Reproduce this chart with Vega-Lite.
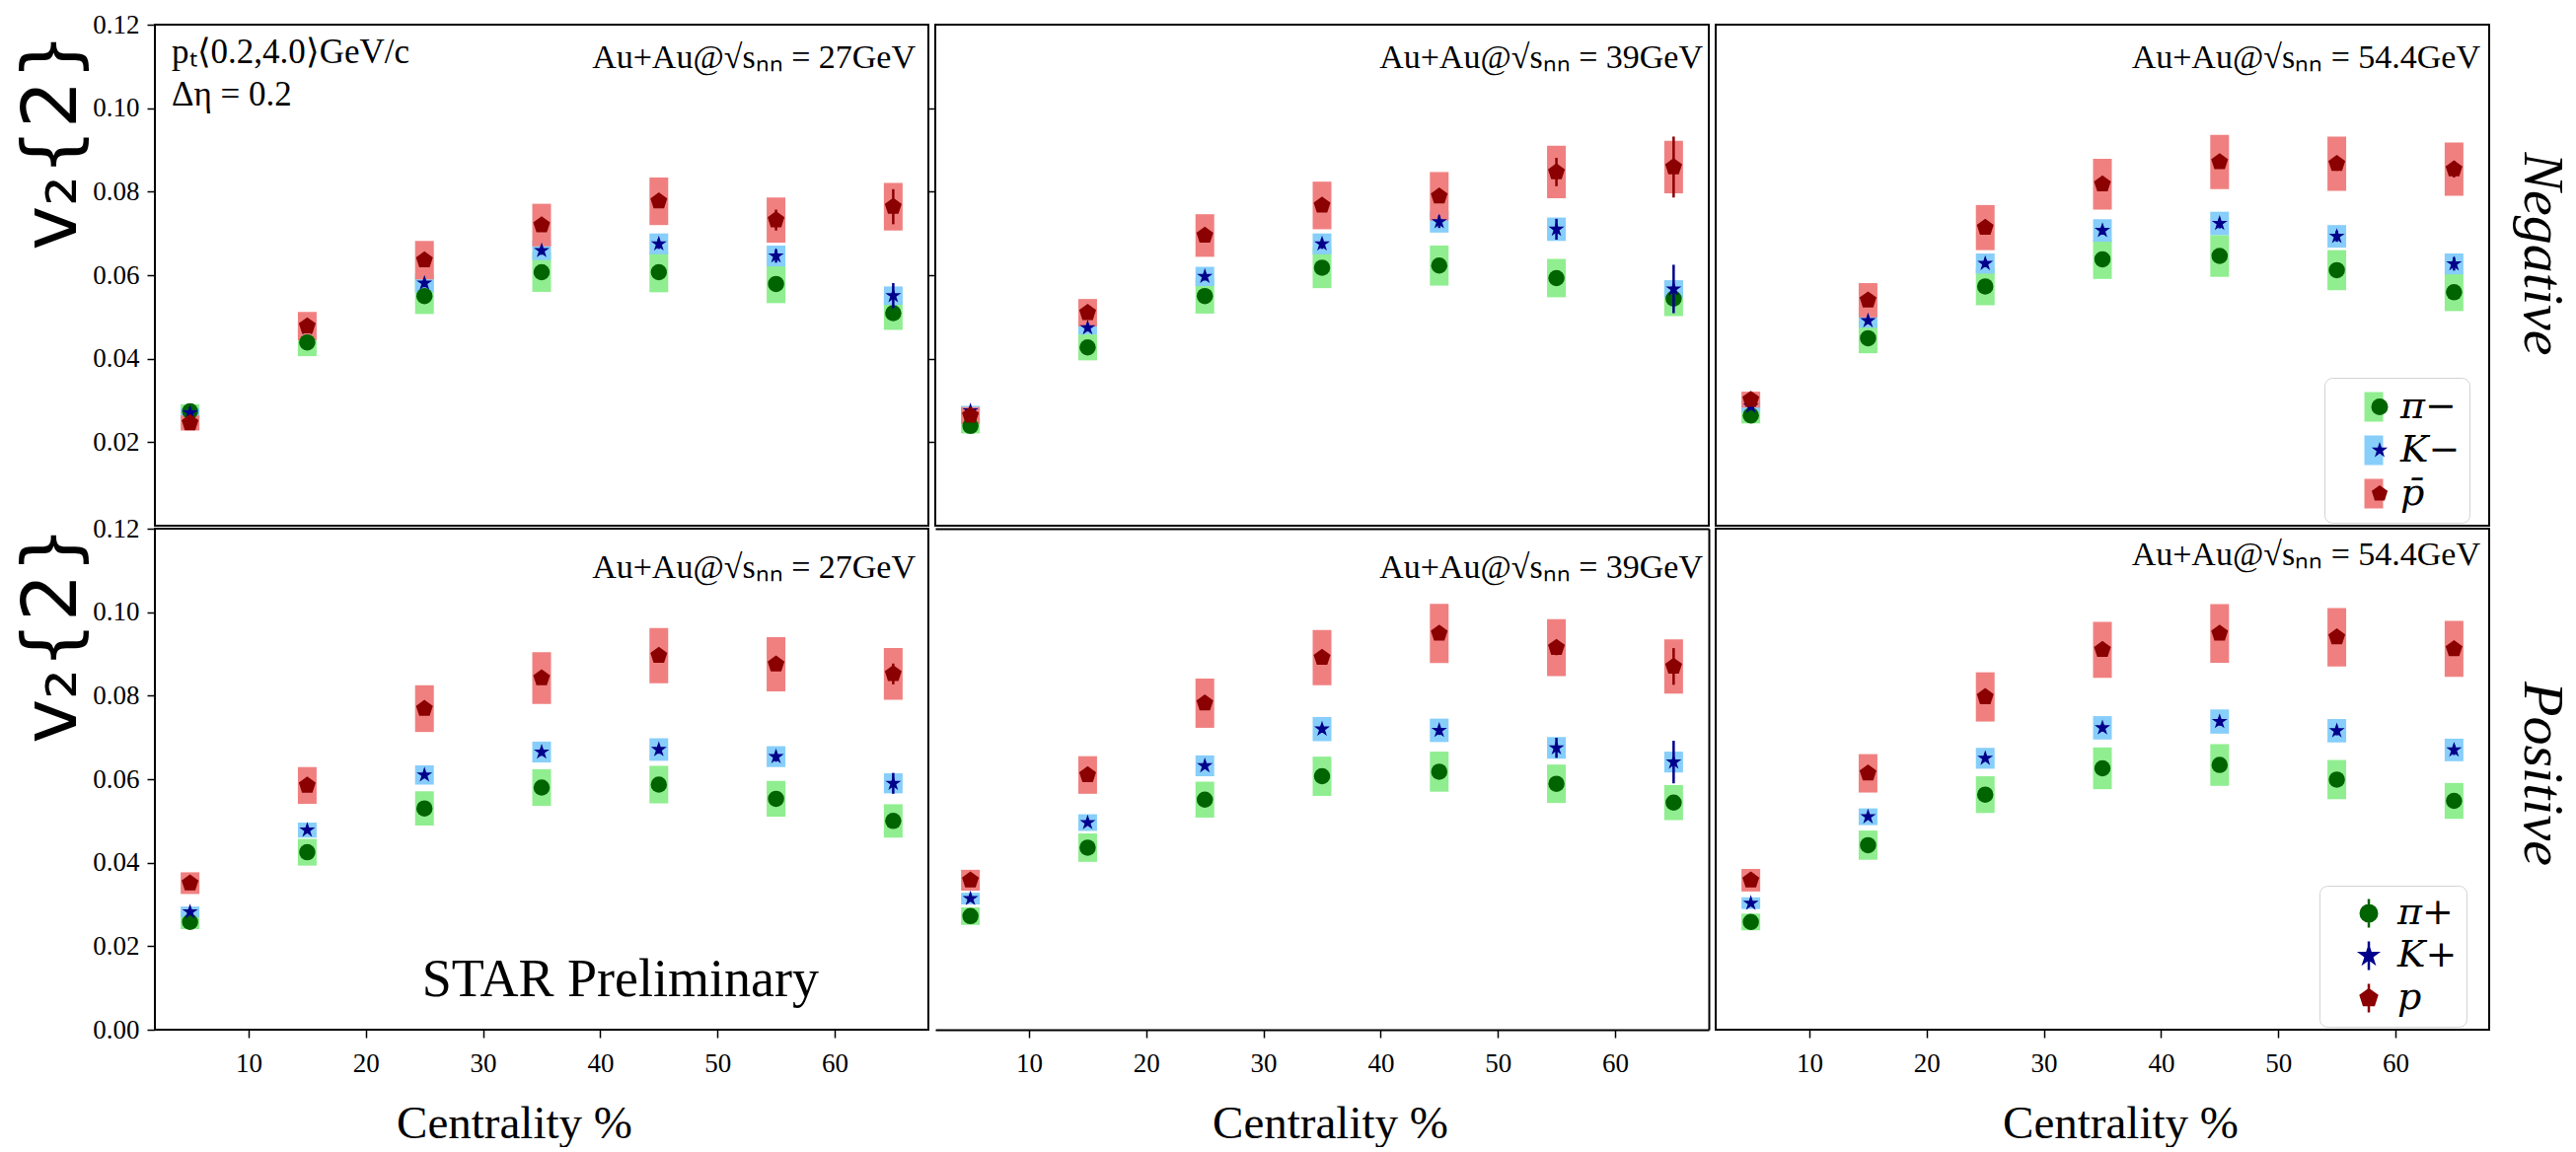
{
  "$schema": "https://vega.github.io/schema/vega-lite/v6.json",
  "background": "white",
  "padding": {"left": 14, "top": 10, "right": 2, "bottom": 0},
  "datasets": {
    "v2": [
      {"charge":"neg","energy":27,"species":"pi","cent":5,"v2":0.0274,"stat":0.0004,"sys":0.0017},
      {"charge":"neg","energy":27,"species":"pi","cent":15,"v2":0.0439,"stat":0.0005,"sys":0.0033},
      {"charge":"neg","energy":27,"species":"pi","cent":25,"v2":0.0550,"stat":0.0006,"sys":0.0043},
      {"charge":"neg","energy":27,"species":"pi","cent":35,"v2":0.0607,"stat":0.0006,"sys":0.0047},
      {"charge":"neg","energy":27,"species":"pi","cent":45,"v2":0.0607,"stat":0.0007,"sys":0.0048},
      {"charge":"neg","energy":27,"species":"pi","cent":55,"v2":0.0579,"stat":0.0008,"sys":0.0046},
      {"charge":"neg","energy":27,"species":"pi","cent":65,"v2":0.0509,"stat":0.0010,"sys":0.0040},
      {"charge":"neg","energy":27,"species":"K","cent":5,"v2":0.0270,"stat":0.0006,"sys":0.0012},
      {"charge":"neg","energy":27,"species":"K","cent":15,"v2":0.0474,"stat":0.0008,"sys":0.0018},
      {"charge":"neg","energy":27,"species":"K","cent":25,"v2":0.0581,"stat":0.0010,"sys":0.0022},
      {"charge":"neg","energy":27,"species":"K","cent":35,"v2":0.0659,"stat":0.0010,"sys":0.0023},
      {"charge":"neg","energy":27,"species":"K","cent":45,"v2":0.0675,"stat":0.0012,"sys":0.0025},
      {"charge":"neg","energy":27,"species":"K","cent":55,"v2":0.0646,"stat":0.0016,"sys":0.0025},
      {"charge":"neg","energy":27,"species":"K","cent":65,"v2":0.0551,"stat":0.0030,"sys":0.0022},
      {"charge":"neg","energy":27,"species":"p","cent":5,"v2":0.0246,"stat":0.0007,"sys":0.0018},
      {"charge":"neg","energy":27,"species":"p","cent":15,"v2":0.0478,"stat":0.0008,"sys":0.0034},
      {"charge":"neg","energy":27,"species":"p","cent":25,"v2":0.0636,"stat":0.0010,"sys":0.0046},
      {"charge":"neg","energy":27,"species":"p","cent":35,"v2":0.0720,"stat":0.0012,"sys":0.0051},
      {"charge":"neg","energy":27,"species":"p","cent":45,"v2":0.0777,"stat":0.0014,"sys":0.0057},
      {"charge":"neg","energy":27,"species":"p","cent":55,"v2":0.0732,"stat":0.0025,"sys":0.0054},
      {"charge":"neg","energy":27,"species":"p","cent":65,"v2":0.0764,"stat":0.0042,"sys":0.0057},

      {"charge":"neg","energy":39,"species":"pi","cent":5,"v2":0.0239,"stat":0.0004,"sys":0.0018},
      {"charge":"neg","energy":39,"species":"pi","cent":15,"v2":0.0427,"stat":0.0005,"sys":0.0031},
      {"charge":"neg","energy":39,"species":"pi","cent":25,"v2":0.0550,"stat":0.0006,"sys":0.0042},
      {"charge":"neg","energy":39,"species":"pi","cent":35,"v2":0.0618,"stat":0.0007,"sys":0.0049},
      {"charge":"neg","energy":39,"species":"pi","cent":45,"v2":0.0623,"stat":0.0008,"sys":0.0048},
      {"charge":"neg","energy":39,"species":"pi","cent":55,"v2":0.0593,"stat":0.0009,"sys":0.0046},
      {"charge":"neg","energy":39,"species":"pi","cent":65,"v2":0.0544,"stat":0.0012,"sys":0.0042},
      {"charge":"neg","energy":39,"species":"K","cent":5,"v2":0.0275,"stat":0.0007,"sys":0.0012},
      {"charge":"neg","energy":39,"species":"K","cent":15,"v2":0.0474,"stat":0.0009,"sys":0.0016},
      {"charge":"neg","energy":39,"species":"K","cent":25,"v2":0.0597,"stat":0.0010,"sys":0.0023},
      {"charge":"neg","energy":39,"species":"K","cent":35,"v2":0.0675,"stat":0.0012,"sys":0.0025},
      {"charge":"neg","energy":39,"species":"K","cent":45,"v2":0.0728,"stat":0.0015,"sys":0.0026},
      {"charge":"neg","energy":39,"species":"K","cent":55,"v2":0.0710,"stat":0.0025,"sys":0.0028},
      {"charge":"neg","energy":39,"species":"K","cent":65,"v2":0.0567,"stat":0.0058,"sys":0.0021},
      {"charge":"neg","energy":39,"species":"p","cent":5,"v2":0.0264,"stat":0.0008,"sys":0.0020},
      {"charge":"neg","energy":39,"species":"p","cent":15,"v2":0.0510,"stat":0.0010,"sys":0.0033},
      {"charge":"neg","energy":39,"species":"p","cent":25,"v2":0.0695,"stat":0.0012,"sys":0.0051},
      {"charge":"neg","energy":39,"species":"p","cent":35,"v2":0.0767,"stat":0.0014,"sys":0.0057},
      {"charge":"neg","energy":39,"species":"p","cent":45,"v2":0.0789,"stat":0.0016,"sys":0.0058},
      {"charge":"neg","energy":39,"species":"p","cent":55,"v2":0.0847,"stat":0.0034,"sys":0.0063},
      {"charge":"neg","energy":39,"species":"p","cent":65,"v2":0.0859,"stat":0.0073,"sys":0.0063},

      {"charge":"neg","energy":54.4,"species":"pi","cent":5,"v2":0.0264,"stat":0.0004,"sys":0.0019},
      {"charge":"neg","energy":54.4,"species":"pi","cent":15,"v2":0.0449,"stat":0.0005,"sys":0.0036},
      {"charge":"neg","energy":54.4,"species":"pi","cent":25,"v2":0.0573,"stat":0.0006,"sys":0.0045},
      {"charge":"neg","energy":54.4,"species":"pi","cent":35,"v2":0.0638,"stat":0.0007,"sys":0.0047},
      {"charge":"neg","energy":54.4,"species":"pi","cent":45,"v2":0.0646,"stat":0.0008,"sys":0.0050},
      {"charge":"neg","energy":54.4,"species":"pi","cent":55,"v2":0.0612,"stat":0.0009,"sys":0.0048},
      {"charge":"neg","energy":54.4,"species":"pi","cent":65,"v2":0.0559,"stat":0.0010,"sys":0.0045},
      {"charge":"neg","energy":54.4,"species":"K","cent":5,"v2":0.0286,"stat":0.0006,"sys":0.0013},
      {"charge":"neg","energy":54.4,"species":"K","cent":15,"v2":0.0491,"stat":0.0008,"sys":0.0017},
      {"charge":"neg","energy":54.4,"species":"K","cent":25,"v2":0.0628,"stat":0.0009,"sys":0.0024},
      {"charge":"neg","energy":54.4,"species":"K","cent":35,"v2":0.0707,"stat":0.0010,"sys":0.0027},
      {"charge":"neg","energy":54.4,"species":"K","cent":45,"v2":0.0724,"stat":0.0012,"sys":0.0028},
      {"charge":"neg","energy":54.4,"species":"K","cent":55,"v2":0.0693,"stat":0.0013,"sys":0.0027},
      {"charge":"neg","energy":54.4,"species":"K","cent":65,"v2":0.0627,"stat":0.0016,"sys":0.0025},
      {"charge":"neg","energy":54.4,"species":"p","cent":5,"v2":0.0302,"stat":0.0007,"sys":0.0019},
      {"charge":"neg","energy":54.4,"species":"p","cent":15,"v2":0.0540,"stat":0.0009,"sys":0.0041},
      {"charge":"neg","energy":54.4,"species":"p","cent":25,"v2":0.0714,"stat":0.0011,"sys":0.0054},
      {"charge":"neg","energy":54.4,"species":"p","cent":35,"v2":0.0818,"stat":0.0013,"sys":0.0061},
      {"charge":"neg","energy":54.4,"species":"p","cent":45,"v2":0.0871,"stat":0.0015,"sys":0.0065},
      {"charge":"neg","energy":54.4,"species":"p","cent":55,"v2":0.0867,"stat":0.0017,"sys":0.0065},
      {"charge":"neg","energy":54.4,"species":"p","cent":65,"v2":0.0854,"stat":0.0020,"sys":0.0064},

      {"charge":"pos","energy":27,"species":"pi","cent":5,"v2":0.0258,"stat":0.0004,"sys":0.0017},
      {"charge":"pos","energy":27,"species":"pi","cent":15,"v2":0.0425,"stat":0.0005,"sys":0.0032},
      {"charge":"pos","energy":27,"species":"pi","cent":25,"v2":0.0530,"stat":0.0006,"sys":0.0041},
      {"charge":"pos","energy":27,"species":"pi","cent":35,"v2":0.0580,"stat":0.0006,"sys":0.0044},
      {"charge":"pos","energy":27,"species":"pi","cent":45,"v2":0.0587,"stat":0.0007,"sys":0.0045},
      {"charge":"pos","energy":27,"species":"pi","cent":55,"v2":0.0553,"stat":0.0008,"sys":0.0043},
      {"charge":"pos","energy":27,"species":"pi","cent":65,"v2":0.0500,"stat":0.0009,"sys":0.0040},
      {"charge":"pos","energy":27,"species":"K","cent":5,"v2":0.0282,"stat":0.0006,"sys":0.0013},
      {"charge":"pos","energy":27,"species":"K","cent":15,"v2":0.0478,"stat":0.0007,"sys":0.0018},
      {"charge":"pos","energy":27,"species":"K","cent":25,"v2":0.0610,"stat":0.0008,"sys":0.0023},
      {"charge":"pos","energy":27,"species":"K","cent":35,"v2":0.0665,"stat":0.0009,"sys":0.0025},
      {"charge":"pos","energy":27,"species":"K","cent":45,"v2":0.0671,"stat":0.0010,"sys":0.0027},
      {"charge":"pos","energy":27,"species":"K","cent":55,"v2":0.0654,"stat":0.0012,"sys":0.0025},
      {"charge":"pos","energy":27,"species":"K","cent":65,"v2":0.0590,"stat":0.0025,"sys":0.0024},
      {"charge":"pos","energy":27,"species":"p","cent":5,"v2":0.0351,"stat":0.0007,"sys":0.0026},
      {"charge":"pos","energy":27,"species":"p","cent":15,"v2":0.0585,"stat":0.0008,"sys":0.0044},
      {"charge":"pos","energy":27,"species":"p","cent":25,"v2":0.0769,"stat":0.0010,"sys":0.0056},
      {"charge":"pos","energy":27,"species":"p","cent":35,"v2":0.0842,"stat":0.0011,"sys":0.0062},
      {"charge":"pos","energy":27,"species":"p","cent":45,"v2":0.0896,"stat":0.0012,"sys":0.0066},
      {"charge":"pos","energy":27,"species":"p","cent":55,"v2":0.0875,"stat":0.0014,"sys":0.0065},
      {"charge":"pos","energy":27,"species":"p","cent":65,"v2":0.0852,"stat":0.0025,"sys":0.0062},

      {"charge":"pos","energy":39,"species":"pi","cent":5,"v2":0.0272,"stat":0.0004,"sys":0.0021},
      {"charge":"pos","energy":39,"species":"pi","cent":15,"v2":0.0436,"stat":0.0005,"sys":0.0034},
      {"charge":"pos","energy":39,"species":"pi","cent":25,"v2":0.0551,"stat":0.0006,"sys":0.0043},
      {"charge":"pos","energy":39,"species":"pi","cent":35,"v2":0.0607,"stat":0.0007,"sys":0.0047},
      {"charge":"pos","energy":39,"species":"pi","cent":45,"v2":0.0618,"stat":0.0008,"sys":0.0048},
      {"charge":"pos","energy":39,"species":"pi","cent":55,"v2":0.0589,"stat":0.0009,"sys":0.0046},
      {"charge":"pos","energy":39,"species":"pi","cent":65,"v2":0.0544,"stat":0.0010,"sys":0.0042},
      {"charge":"pos","energy":39,"species":"K","cent":5,"v2":0.0314,"stat":0.0006,"sys":0.0014},
      {"charge":"pos","energy":39,"species":"K","cent":15,"v2":0.0496,"stat":0.0007,"sys":0.0020},
      {"charge":"pos","energy":39,"species":"K","cent":25,"v2":0.0632,"stat":0.0008,"sys":0.0025},
      {"charge":"pos","energy":39,"species":"K","cent":35,"v2":0.0720,"stat":0.0009,"sys":0.0029},
      {"charge":"pos","energy":39,"species":"K","cent":45,"v2":0.0717,"stat":0.0011,"sys":0.0028},
      {"charge":"pos","energy":39,"species":"K","cent":55,"v2":0.0675,"stat":0.0024,"sys":0.0026},
      {"charge":"pos","energy":39,"species":"K","cent":65,"v2":0.0641,"stat":0.0051,"sys":0.0025},
      {"charge":"pos","energy":39,"species":"p","cent":5,"v2":0.0358,"stat":0.0007,"sys":0.0025},
      {"charge":"pos","energy":39,"species":"p","cent":15,"v2":0.0610,"stat":0.0008,"sys":0.0045},
      {"charge":"pos","energy":39,"species":"p","cent":25,"v2":0.0782,"stat":0.0010,"sys":0.0059},
      {"charge":"pos","energy":39,"species":"p","cent":35,"v2":0.0891,"stat":0.0012,"sys":0.0066},
      {"charge":"pos","energy":39,"species":"p","cent":45,"v2":0.0949,"stat":0.0014,"sys":0.0071},
      {"charge":"pos","energy":39,"species":"p","cent":55,"v2":0.0915,"stat":0.0018,"sys":0.0068},
      {"charge":"pos","energy":39,"species":"p","cent":65,"v2":0.0870,"stat":0.0044,"sys":0.0065},

      {"charge":"pos","energy":54.4,"species":"pi","cent":5,"v2":0.0258,"stat":0.0004,"sys":0.0020},
      {"charge":"pos","energy":54.4,"species":"pi","cent":15,"v2":0.0442,"stat":0.0005,"sys":0.0035},
      {"charge":"pos","energy":54.4,"species":"pi","cent":25,"v2":0.0563,"stat":0.0006,"sys":0.0044},
      {"charge":"pos","energy":54.4,"species":"pi","cent":35,"v2":0.0626,"stat":0.0007,"sys":0.0050},
      {"charge":"pos","energy":54.4,"species":"pi","cent":45,"v2":0.0634,"stat":0.0008,"sys":0.0050},
      {"charge":"pos","energy":54.4,"species":"pi","cent":55,"v2":0.0599,"stat":0.0008,"sys":0.0047},
      {"charge":"pos","energy":54.4,"species":"pi","cent":65,"v2":0.0548,"stat":0.0009,"sys":0.0043},
      {"charge":"pos","energy":54.4,"species":"K","cent":5,"v2":0.0303,"stat":0.0006,"sys":0.0014},
      {"charge":"pos","energy":54.4,"species":"K","cent":15,"v2":0.0510,"stat":0.0007,"sys":0.0020},
      {"charge":"pos","energy":54.4,"species":"K","cent":25,"v2":0.0650,"stat":0.0008,"sys":0.0025},
      {"charge":"pos","energy":54.4,"species":"K","cent":35,"v2":0.0723,"stat":0.0009,"sys":0.0028},
      {"charge":"pos","energy":54.4,"species":"K","cent":45,"v2":0.0738,"stat":0.0010,"sys":0.0029},
      {"charge":"pos","energy":54.4,"species":"K","cent":55,"v2":0.0716,"stat":0.0011,"sys":0.0028},
      {"charge":"pos","energy":54.4,"species":"K","cent":65,"v2":0.0670,"stat":0.0012,"sys":0.0027},
      {"charge":"pos","energy":54.4,"species":"p","cent":5,"v2":0.0358,"stat":0.0007,"sys":0.0027},
      {"charge":"pos","energy":54.4,"species":"p","cent":15,"v2":0.0614,"stat":0.0008,"sys":0.0046},
      {"charge":"pos","energy":54.4,"species":"p","cent":25,"v2":0.0797,"stat":0.0010,"sys":0.0059},
      {"charge":"pos","energy":54.4,"species":"p","cent":35,"v2":0.0910,"stat":0.0011,"sys":0.0067},
      {"charge":"pos","energy":54.4,"species":"p","cent":45,"v2":0.0949,"stat":0.0012,"sys":0.0070},
      {"charge":"pos","energy":54.4,"species":"p","cent":55,"v2":0.0940,"stat":0.0013,"sys":0.0070},
      {"charge":"pos","energy":54.4,"species":"p","cent":65,"v2":0.0912,"stat":0.0014,"sys":0.0067}
    ],
    "notes": [
      {"charge":"neg","energy":27,"kind":"energy","label":"Au+Au@√sₙₙ = 27GeV"},
      {"charge":"neg","energy":39,"kind":"energy","label":"Au+Au@√sₙₙ = 39GeV"},
      {"charge":"neg","energy":54.4,"kind":"energy","label":"Au+Au@√sₙₙ = 54.4GeV"},
      {"charge":"pos","energy":27,"kind":"energy","label":"Au+Au@√sₙₙ = 27GeV"},
      {"charge":"pos","energy":39,"kind":"energy","label":"Au+Au@√sₙₙ = 39GeV"},
      {"charge":"pos","energy":54.4,"kind":"energy","label":"Au+Au@√sₙₙ = 54.4GeV"},
      {"charge":"neg","energy":27,"kind":"cuts","label":"pₜ⟨0.2,4.0⟩GeV/c\nΔη = 0.2"},
      {"charge":"pos","energy":27,"kind":"star","label":"STAR Preliminary"}
    ]
  },
  "columns": 3,
  "spacing": {"row": 3, "column": 7},
  "bounds": "flush",
  "resolve": {
    "scale": {"x": "independent", "y": "independent", "color": "independent", "fill": "independent", "shape": "independent", "stroke": "independent"},
    "legend": {"color": "independent", "fill": "independent", "shape": "independent", "stroke": "independent"}
  },
  "concat": [
    {
      "width": 784, "height": 508,
      "resolve": {"axis": {"x": "independent", "y": "independent"}},
      "layer": [
        {
          "data": {"name": "v2"},
          "transform": [{"filter": "datum.charge == 'neg' && datum.energy == 27"}],
          "encoding": {
            "x": {"field": "cent", "type": "quantitative", "scale": {"domain": [2, 68], "nice": false, "zero": false}, "axis": null},
            "y": {"field": "v2", "type": "quantitative", "scale": {"domain": [0, 0.12], "nice": false, "zero": false},
                  "axis": {"values": [0.02, 0.04, 0.06, 0.08, 0.1, 0.12], "format": ".2f", "title": "v₂{2}", "titleFont": "DejaVu Sans", "titleFontSize": 76, "titleAngle": -90, "titleX": -104, "titleY": 118, "titleAlign": "center", "titleBaseline": "middle"}}
          },
          "layer": [
            {"transform": [{"filter": "datum.species == 'pi'"}], "mark": {"type": "errorbar", "thickness": 19, "color": "#90ee90", "opacity": 1}, "encoding": {"yError": {"field": "sys"}}},
            {"transform": [{"filter": "datum.species == 'K'"}], "mark": {"type": "errorbar", "thickness": 19, "color": "#87cefa", "opacity": 1}, "encoding": {"yError": {"field": "sys"}}},
            {"transform": [{"filter": "datum.species == 'p'"}], "mark": {"type": "errorbar", "thickness": 19, "color": "#f08080", "opacity": 1}, "encoding": {"yError": {"field": "sys"}}},
            {"transform": [{"filter": "datum.species == 'pi'"}], "mark": {"type": "errorbar", "thickness": 2.5, "color": "#006400", "opacity": 1}, "encoding": {"yError": {"field": "stat"}}},
            {"transform": [{"filter": "datum.species == 'pi'"}], "mark": {"type": "point", "shape": "circle", "filled": true, "size": 272, "color": "#006400", "opacity": 1}},
            {"transform": [{"filter": "datum.species == 'K'"}], "mark": {"type": "errorbar", "thickness": 2.5, "color": "#00008b", "opacity": 1}, "encoding": {"yError": {"field": "stat"}}},
            {"transform": [{"filter": "datum.species == 'K'"}], "mark": {"type": "point", "shape": "M0,-1L-0.2245,-0.309L-0.951,-0.309L-0.3633,0.118L-0.588,0.809L0,0.382L0.588,0.809L0.3633,0.118L0.951,-0.309L0.2245,-0.309Z", "filled": true, "size": 282, "color": "#00008b", "opacity": 1}},
            {"transform": [{"filter": "datum.species == 'p'"}], "mark": {"type": "errorbar", "thickness": 2.5, "color": "#8b0000", "opacity": 1}, "encoding": {"yError": {"field": "stat"}}},
            {"transform": [{"filter": "datum.species == 'p'"}], "mark": {"type": "point", "shape": "M0,-1L0.951,-0.309L0.588,0.809L-0.588,0.809L-0.951,-0.309Z", "filled": true, "size": 324, "color": "#8b0000", "opacity": 1}}
          ]
        },
        {"data": {"name": "notes"}, "transform": [{"filter": "datum.kind == 'energy' && datum.charge == 'neg' && datum.energy == 27"}],
         "mark": {"type": "text", "align": "right", "baseline": "alphabetic", "dx": -13, "dy": 44, "font": "Liberation Serif", "fontSize": 34, "color": "#000"},
         "encoding": {"x": {"datum": 68, "axis": null}, "y": {"datum": 0.12, "axis": null}, "text": {"field": "label"}}},
        {"data": {"name": "notes"}, "transform": [{"filter": "datum.kind == 'cuts' && datum.charge == 'neg' && datum.energy == 27"}],
         "mark": {"type": "text", "align": "left", "baseline": "alphabetic", "dx": 17, "dy": 39, "lineBreak": "\n", "lineHeight": 43, "font": "Liberation Serif", "fontSize": 35, "color": "#000"},
         "encoding": {"x": {"datum": 2, "axis": null}, "y": {"datum": 0.12, "axis": null}, "text": {"field": "label"}}}
      ]
    },
    {
      "width": 784, "height": 508,
      "resolve": {"axis": {"x": "independent", "y": "independent"}},
      "layer": [
        {
          "data": {"name": "v2"},
          "transform": [{"filter": "datum.charge == 'neg' && datum.energy == 39"}],
          "encoding": {
            "x": {"field": "cent", "type": "quantitative", "scale": {"domain": [2, 68], "nice": false, "zero": false}, "axis": null},
            "y": {"field": "v2", "type": "quantitative", "scale": {"domain": [0, 0.12], "nice": false, "zero": false},
                  "axis": {"values": [0.02, 0.04, 0.06, 0.08, 0.1], "labels": false, "title": null}}
          },
          "layer": [
            {"transform": [{"filter": "datum.species == 'pi'"}], "mark": {"type": "errorbar", "thickness": 19, "color": "#90ee90", "opacity": 1}, "encoding": {"yError": {"field": "sys"}}},
            {"transform": [{"filter": "datum.species == 'K'"}], "mark": {"type": "errorbar", "thickness": 19, "color": "#87cefa", "opacity": 1}, "encoding": {"yError": {"field": "sys"}}},
            {"transform": [{"filter": "datum.species == 'p'"}], "mark": {"type": "errorbar", "thickness": 19, "color": "#f08080", "opacity": 1}, "encoding": {"yError": {"field": "sys"}}},
            {"transform": [{"filter": "datum.species == 'pi'"}], "mark": {"type": "errorbar", "thickness": 2.5, "color": "#006400", "opacity": 1}, "encoding": {"yError": {"field": "stat"}}},
            {"transform": [{"filter": "datum.species == 'pi'"}], "mark": {"type": "point", "shape": "circle", "filled": true, "size": 272, "color": "#006400", "opacity": 1}},
            {"transform": [{"filter": "datum.species == 'K'"}], "mark": {"type": "errorbar", "thickness": 2.5, "color": "#00008b", "opacity": 1}, "encoding": {"yError": {"field": "stat"}}},
            {"transform": [{"filter": "datum.species == 'K'"}], "mark": {"type": "point", "shape": "M0,-1L-0.2245,-0.309L-0.951,-0.309L-0.3633,0.118L-0.588,0.809L0,0.382L0.588,0.809L0.3633,0.118L0.951,-0.309L0.2245,-0.309Z", "filled": true, "size": 282, "color": "#00008b", "opacity": 1}},
            {"transform": [{"filter": "datum.species == 'p'"}], "mark": {"type": "errorbar", "thickness": 2.5, "color": "#8b0000", "opacity": 1}, "encoding": {"yError": {"field": "stat"}}},
            {"transform": [{"filter": "datum.species == 'p'"}], "mark": {"type": "point", "shape": "M0,-1L0.951,-0.309L0.588,0.809L-0.588,0.809L-0.951,-0.309Z", "filled": true, "size": 324, "color": "#8b0000", "opacity": 1}}
          ]
        },
        {"data": {"name": "notes"}, "transform": [{"filter": "datum.kind == 'energy' && datum.charge == 'neg' && datum.energy == 39"}],
         "mark": {"type": "text", "align": "right", "baseline": "alphabetic", "dx": -6, "dy": 44, "font": "Liberation Serif", "fontSize": 34, "color": "#000"},
         "encoding": {"x": {"datum": 68, "axis": null}, "y": {"datum": 0.12, "axis": null}, "text": {"field": "label"}}}
      ]
    },
    {
      "width": 784, "height": 508,
      "resolve": {"axis": {"x": "independent", "y": "independent"}},
      "layer": [
        {
          "data": {"name": "v2"},
          "transform": [{"filter": "datum.charge == 'neg' && datum.energy == 54.4"}],
          "encoding": {
            "x": {"field": "cent", "type": "quantitative", "scale": {"domain": [2, 68], "nice": false, "zero": false}, "axis": null},
            "y": {"field": "v2", "type": "quantitative", "scale": {"domain": [0, 0.12], "nice": false, "zero": false},
                  "axis": {"orient": "right", "ticks": false, "labels": false, "title": "Negative", "titleFont": "Liberation Serif", "titleFontStyle": "italic", "titleFontSize": 58, "titleAngle": 90, "titleX": 52, "titleY": 232, "titleAlign": "center", "titleBaseline": "middle"}}
          },
          "layer": [
            {"transform": [{"filter": "datum.species == 'pi'"}], "mark": {"type": "errorbar", "thickness": 19, "color": "#90ee90", "opacity": 1}, "encoding": {"yError": {"field": "sys"}}},
            {"transform": [{"filter": "datum.species == 'K'"}], "mark": {"type": "errorbar", "thickness": 19, "color": "#87cefa", "opacity": 1}, "encoding": {"yError": {"field": "sys"}}},
            {"transform": [{"filter": "datum.species == 'p'"}], "mark": {"type": "errorbar", "thickness": 19, "color": "#f08080", "opacity": 1}, "encoding": {"yError": {"field": "sys"}}},
            {"transform": [{"filter": "datum.species == 'pi'"}], "mark": {"type": "errorbar", "thickness": 2.5, "color": "#006400", "opacity": 1}, "encoding": {"yError": {"field": "stat"}}},
            {"transform": [{"filter": "datum.species == 'pi'"}], "mark": {"type": "point", "shape": "circle", "filled": true, "size": 272, "color": "#006400", "opacity": 1}},
            {"transform": [{"filter": "datum.species == 'K'"}], "mark": {"type": "errorbar", "thickness": 2.5, "color": "#00008b", "opacity": 1}, "encoding": {"yError": {"field": "stat"}}},
            {"transform": [{"filter": "datum.species == 'K'"}], "mark": {"type": "point", "shape": "M0,-1L-0.2245,-0.309L-0.951,-0.309L-0.3633,0.118L-0.588,0.809L0,0.382L0.588,0.809L0.3633,0.118L0.951,-0.309L0.2245,-0.309Z", "filled": true, "size": 282, "color": "#00008b", "opacity": 1}},
            {"transform": [{"filter": "datum.species == 'p'"}], "mark": {"type": "errorbar", "thickness": 2.5, "color": "#8b0000", "opacity": 1}, "encoding": {"yError": {"field": "stat"}}},
            {"transform": [{"filter": "datum.species == 'p'"}], "mark": {"type": "point", "shape": "M0,-1L0.951,-0.309L0.588,0.809L-0.588,0.809L-0.951,-0.309Z", "filled": true, "size": 324, "color": "#8b0000", "opacity": 1}},
            {"transform": [{"filter": "false"}],
             "mark": {"type": "point", "filled": true, "opacity": 1},
             "encoding": {
               "color": {"field": "species", "type": "nominal",
                 "scale": {"domain": ["pim", "km", "pbar"], "range": ["#90ee90", "#87cefa", "#f08080"]},
                 "legend": {"orient": "none", "legendX": 617, "legendY": 358, "title": null,
                   "symbolType": "M-0.633,-1H0.633V1H-0.633Z", "symbolSize": 900, "symbolStrokeWidth": 0, "symbolOpacity": 1,
                   "labelExpr": "datum.value == 'pim' ? 'π−' : datum.value == 'km' ? 'K−' : 'p̄'",
                   "labelFont": "DejaVu Serif", "labelFontStyle": "italic", "labelFontSize": 38, "labelColor": "#000",
                   "labelOffset": 8, "rowPadding": 3, "clipHeight": 41, "symbolOffset": 22, "padding": 9,
                   "strokeColor": "#d3d3d3", "cornerRadius": 8, "fillColor": "#ffffff"}}
             }},
            {"transform": [{"filter": "false"}],
             "mark": {"type": "point", "filled": true, "opacity": 1},
             "encoding": {
               "shape": {"field": "species", "type": "nominal",
                 "scale": {"domain": ["π−", "K−", "p̄"], "range": ["circle", "M0,-1L-0.2245,-0.309L-0.951,-0.309L-0.3633,0.118L-0.588,0.809L0,0.382L0.588,0.809L0.3633,0.118L0.951,-0.309L0.2245,-0.309Z", "M0,-1L0.951,-0.309L0.588,0.809L-0.588,0.809L-0.951,-0.309Z"]},
                 "legend": {"orient": "none", "legendX": 617, "legendY": 358, "title": null, "symbolSize": 290, "symbolStrokeWidth": 0, "symbolOpacity": 1,
                   "labelExpr": "''", "labelFontSize": 38,
                   "labelOffset": 8, "rowPadding": 3, "clipHeight": 41, "symbolOffset": 28, "padding": 9}},
               "fill": {"field": "species", "type": "nominal",
                 "scale": {"domain": ["π−", "K−", "p̄"], "range": ["#006400", "#00008b", "#8b0000"]},
                 "legend": {"orient": "none", "legendX": 617, "legendY": 358, "title": null, "symbolSize": 290, "symbolStrokeWidth": 0, "symbolOpacity": 1,
                   "labelExpr": "''", "labelFontSize": 38,
                   "labelOffset": 8, "rowPadding": 3, "clipHeight": 41, "symbolOffset": 28, "padding": 9}}
             }}
          ]
        },
        {"data": {"name": "notes"}, "transform": [{"filter": "datum.kind == 'energy' && datum.charge == 'neg' && datum.energy == 54.4"}],
         "mark": {"type": "text", "align": "right", "baseline": "alphabetic", "dx": -9, "dy": 44, "font": "Liberation Serif", "fontSize": 34, "color": "#000"},
         "encoding": {"x": {"datum": 68, "axis": null}, "y": {"datum": 0.12, "axis": null}, "text": {"field": "label"}}}
      ]
    },
    {
      "width": 784, "height": 508,
      "resolve": {"axis": {"x": "independent", "y": "independent"}},
      "layer": [
        {
          "data": {"name": "v2"},
          "transform": [{"filter": "datum.charge == 'pos' && datum.energy == 27"}],
          "encoding": {
            "x": {"field": "cent", "type": "quantitative", "scale": {"domain": [2, 68], "nice": false, "zero": false},
                  "axis": {"values": [10, 20, 30, 40, 50, 60], "format": "d", "labelPadding": 13, "title": "Centrality %", "titleFont": "Liberation Serif", "titleFontSize": 47, "titleX": 364, "titleY": 109, "titleAlign": "center", "titleBaseline": "alphabetic"}},
            "y": {"field": "v2", "type": "quantitative", "scale": {"domain": [0, 0.12], "nice": false, "zero": false},
                  "axis": {"values": [0, 0.02, 0.04, 0.06, 0.08, 0.1, 0.12], "format": ".2f", "title": "v₂{2}", "titleFont": "DejaVu Sans", "titleFontSize": 76, "titleAngle": -90, "titleX": -104, "titleY": 107, "titleAlign": "center", "titleBaseline": "middle"}}
          },
          "layer": [
            {"transform": [{"filter": "datum.species == 'pi'"}], "mark": {"type": "errorbar", "thickness": 19, "color": "#90ee90", "opacity": 1}, "encoding": {"yError": {"field": "sys"}}},
            {"transform": [{"filter": "datum.species == 'K'"}], "mark": {"type": "errorbar", "thickness": 19, "color": "#87cefa", "opacity": 1}, "encoding": {"yError": {"field": "sys"}}},
            {"transform": [{"filter": "datum.species == 'p'"}], "mark": {"type": "errorbar", "thickness": 19, "color": "#f08080", "opacity": 1}, "encoding": {"yError": {"field": "sys"}}},
            {"transform": [{"filter": "datum.species == 'pi'"}], "mark": {"type": "errorbar", "thickness": 2.5, "color": "#006400", "opacity": 1}, "encoding": {"yError": {"field": "stat"}}},
            {"transform": [{"filter": "datum.species == 'pi'"}], "mark": {"type": "point", "shape": "circle", "filled": true, "size": 272, "color": "#006400", "opacity": 1}},
            {"transform": [{"filter": "datum.species == 'K'"}], "mark": {"type": "errorbar", "thickness": 2.5, "color": "#00008b", "opacity": 1}, "encoding": {"yError": {"field": "stat"}}},
            {"transform": [{"filter": "datum.species == 'K'"}], "mark": {"type": "point", "shape": "M0,-1L-0.2245,-0.309L-0.951,-0.309L-0.3633,0.118L-0.588,0.809L0,0.382L0.588,0.809L0.3633,0.118L0.951,-0.309L0.2245,-0.309Z", "filled": true, "size": 282, "color": "#00008b", "opacity": 1}},
            {"transform": [{"filter": "datum.species == 'p'"}], "mark": {"type": "errorbar", "thickness": 2.5, "color": "#8b0000", "opacity": 1}, "encoding": {"yError": {"field": "stat"}}},
            {"transform": [{"filter": "datum.species == 'p'"}], "mark": {"type": "point", "shape": "M0,-1L0.951,-0.309L0.588,0.809L-0.588,0.809L-0.951,-0.309Z", "filled": true, "size": 324, "color": "#8b0000", "opacity": 1}}
          ]
        },
        {"data": {"name": "notes"}, "transform": [{"filter": "datum.kind == 'energy' && datum.charge == 'pos' && datum.energy == 27"}],
         "mark": {"type": "text", "align": "right", "baseline": "alphabetic", "dx": -13, "dy": 50, "font": "Liberation Serif", "fontSize": 34, "color": "#000"},
         "encoding": {"x": {"datum": 68, "axis": null}, "y": {"datum": 0.12, "axis": null}, "text": {"field": "label"}}},
        {"data": {"name": "notes"}, "transform": [{"filter": "datum.kind == 'star' && datum.charge == 'pos' && datum.energy == 27"}],
         "mark": {"type": "text", "align": "left", "baseline": "alphabetic", "font": "Liberation Serif", "fontSize": 54, "color": "#000"},
         "encoding": {"x": {"datum": 24.8, "axis": null}, "y": {"datum": 0.008, "axis": null}, "text": {"field": "label"}}}
      ]
    },
    {
      "width": 784, "height": 508,
      "view": {"stroke": null},
      "resolve": {"axis": {"x": "independent", "y": "independent"}},
      "layer": [
        {
          "data": {"name": "v2"},
          "transform": [{"filter": "datum.charge == 'pos' && datum.energy == 39"}],
          "encoding": {
            "x": {"field": "cent", "type": "quantitative", "scale": {"domain": [2, 68], "nice": false, "zero": false},
                  "axis": {"domain": true, "domainColor": "#000", "domainWidth": 2, "values": [10, 20, 30, 40, 50, 60], "format": "d", "labelPadding": 13, "title": "Centrality %", "titleFont": "Liberation Serif", "titleFontSize": 47, "titleX": 400, "titleY": 109, "titleAlign": "center", "titleBaseline": "alphabetic"}},
            "y": {"field": "v2", "type": "quantitative", "scale": {"domain": [0, 0.12], "nice": false, "zero": false},
                  "axis": {"orient": "right", "domain": true, "domainColor": "#000", "domainWidth": 2, "ticks": false, "labels": false, "title": null}}
          },
          "layer": [
            {"transform": [{"filter": "datum.species == 'pi'"}], "mark": {"type": "errorbar", "thickness": 19, "color": "#90ee90", "opacity": 1}, "encoding": {"yError": {"field": "sys"}}},
            {"transform": [{"filter": "datum.species == 'K'"}], "mark": {"type": "errorbar", "thickness": 19, "color": "#87cefa", "opacity": 1}, "encoding": {"yError": {"field": "sys"}}},
            {"transform": [{"filter": "datum.species == 'p'"}], "mark": {"type": "errorbar", "thickness": 19, "color": "#f08080", "opacity": 1}, "encoding": {"yError": {"field": "sys"}}},
            {"transform": [{"filter": "datum.species == 'pi'"}], "mark": {"type": "errorbar", "thickness": 2.5, "color": "#006400", "opacity": 1}, "encoding": {"yError": {"field": "stat"}}},
            {"transform": [{"filter": "datum.species == 'pi'"}], "mark": {"type": "point", "shape": "circle", "filled": true, "size": 272, "color": "#006400", "opacity": 1}},
            {"transform": [{"filter": "datum.species == 'K'"}], "mark": {"type": "errorbar", "thickness": 2.5, "color": "#00008b", "opacity": 1}, "encoding": {"yError": {"field": "stat"}}},
            {"transform": [{"filter": "datum.species == 'K'"}], "mark": {"type": "point", "shape": "M0,-1L-0.2245,-0.309L-0.951,-0.309L-0.3633,0.118L-0.588,0.809L0,0.382L0.588,0.809L0.3633,0.118L0.951,-0.309L0.2245,-0.309Z", "filled": true, "size": 282, "color": "#00008b", "opacity": 1}},
            {"transform": [{"filter": "datum.species == 'p'"}], "mark": {"type": "errorbar", "thickness": 2.5, "color": "#8b0000", "opacity": 1}, "encoding": {"yError": {"field": "stat"}}},
            {"transform": [{"filter": "datum.species == 'p'"}], "mark": {"type": "point", "shape": "M0,-1L0.951,-0.309L0.588,0.809L-0.588,0.809L-0.951,-0.309Z", "filled": true, "size": 324, "color": "#8b0000", "opacity": 1}}
          ]
        },
        {"data": {"name": "v2"}, "transform": [{"filter": "false"}],
         "mark": {"type": "point"},
         "encoding": {
           "x": {"field": "cent", "type": "quantitative", "scale": {"domain": [2, 68], "nice": false, "zero": false},
                 "axis": {"orient": "top", "domain": true, "domainColor": "#000", "domainWidth": 2, "ticks": false, "labels": false, "title": null}},
           "y": {"field": "v2", "type": "quantitative", "axis": null}}},
        {"data": {"name": "notes"}, "transform": [{"filter": "datum.kind == 'energy' && datum.charge == 'pos' && datum.energy == 39"}],
         "mark": {"type": "text", "align": "right", "baseline": "alphabetic", "dx": -6, "dy": 50, "font": "Liberation Serif", "fontSize": 34, "color": "#000"},
         "encoding": {"x": {"datum": 68, "axis": null}, "y": {"datum": 0.12, "axis": null}, "text": {"field": "label"}}}
      ]
    },
    {
      "width": 784, "height": 508,
      "resolve": {"axis": {"x": "independent", "y": "independent"}},
      "layer": [
        {
          "data": {"name": "v2"},
          "transform": [{"filter": "datum.charge == 'pos' && datum.energy == 54.4"}],
          "encoding": {
            "x": {"field": "cent", "type": "quantitative", "scale": {"domain": [2, 68], "nice": false, "zero": false},
                  "axis": {"values": [10, 20, 30, 40, 50, 60], "format": "d", "labelPadding": 13, "title": "Centrality %", "titleFont": "Liberation Serif", "titleFontSize": 47, "titleX": 410, "titleY": 109, "titleAlign": "center", "titleBaseline": "alphabetic"}},
            "y": {"field": "v2", "type": "quantitative", "scale": {"domain": [0, 0.12], "nice": false, "zero": false},
                  "axis": {"orient": "right", "ticks": false, "labels": false, "title": "Positive", "titleFont": "Liberation Serif", "titleFontStyle": "italic", "titleFontSize": 58, "titleAngle": 90, "titleX": 52, "titleY": 248, "titleAlign": "center", "titleBaseline": "middle"}}
          },
          "layer": [
            {"transform": [{"filter": "datum.species == 'pi'"}], "mark": {"type": "errorbar", "thickness": 19, "color": "#90ee90", "opacity": 1}, "encoding": {"yError": {"field": "sys"}}},
            {"transform": [{"filter": "datum.species == 'K'"}], "mark": {"type": "errorbar", "thickness": 19, "color": "#87cefa", "opacity": 1}, "encoding": {"yError": {"field": "sys"}}},
            {"transform": [{"filter": "datum.species == 'p'"}], "mark": {"type": "errorbar", "thickness": 19, "color": "#f08080", "opacity": 1}, "encoding": {"yError": {"field": "sys"}}},
            {"transform": [{"filter": "datum.species == 'pi'"}], "mark": {"type": "errorbar", "thickness": 2.5, "color": "#006400", "opacity": 1}, "encoding": {"yError": {"field": "stat"}}},
            {"transform": [{"filter": "datum.species == 'pi'"}], "mark": {"type": "point", "shape": "circle", "filled": true, "size": 272, "color": "#006400", "opacity": 1}},
            {"transform": [{"filter": "datum.species == 'K'"}], "mark": {"type": "errorbar", "thickness": 2.5, "color": "#00008b", "opacity": 1}, "encoding": {"yError": {"field": "stat"}}},
            {"transform": [{"filter": "datum.species == 'K'"}], "mark": {"type": "point", "shape": "M0,-1L-0.2245,-0.309L-0.951,-0.309L-0.3633,0.118L-0.588,0.809L0,0.382L0.588,0.809L0.3633,0.118L0.951,-0.309L0.2245,-0.309Z", "filled": true, "size": 282, "color": "#00008b", "opacity": 1}},
            {"transform": [{"filter": "datum.species == 'p'"}], "mark": {"type": "errorbar", "thickness": 2.5, "color": "#8b0000", "opacity": 1}, "encoding": {"yError": {"field": "stat"}}},
            {"transform": [{"filter": "datum.species == 'p'"}], "mark": {"type": "point", "shape": "M0,-1L0.951,-0.309L0.588,0.809L-0.588,0.809L-0.951,-0.309Z", "filled": true, "size": 324, "color": "#8b0000", "opacity": 1}},
            {"transform": [{"filter": "false"}],
             "mark": {"type": "point", "filled": true, "opacity": 1, "strokeWidth": 2.5},
             "encoding": {
               "shape": {"field": "species", "type": "nominal",
                 "scale": {"domain": ["π+", "K+", "p"], "range": [
                   "M0,-1.67V1.67M0.95,0A0.95,0.95,0,1,1,-0.95,0A0.95,0.95,0,1,1,0.95,0Z",
                   "M0,-1.67V1.67M0,-1L-0.2245,-0.309L-0.951,-0.309L-0.3633,0.118L-0.588,0.809L0,0.382L0.588,0.809L0.3633,0.118L0.951,-0.309L0.2245,-0.309Z",
                   "M0,-1.67V1.67M0,-1L0.951,-0.309L0.588,0.809L-0.588,0.809L-0.951,-0.309Z"]},
                 "legend": {"orient": "none", "legendX": 612, "legendY": 362, "title": null, "symbolSize": 300, "symbolStrokeWidth": 2.5, "symbolOpacity": 1,
                   "labelFont": "DejaVu Serif", "labelFontStyle": "italic", "labelFontSize": 38, "labelColor": "#000",
                   "labelOffset": 10, "rowPadding": 3, "symbolOffset": 22, "padding": 9,
                   "strokeColor": "#d3d3d3", "cornerRadius": 8, "fillColor": "#ffffff"}},
               "fill": {"field": "species", "type": "nominal",
                 "scale": {"domain": ["π+", "K+", "p"], "range": ["#006400", "#00008b", "#8b0000"]},
                 "legend": {"orient": "none", "legendX": 612, "legendY": 362, "title": null, "symbolSize": 300, "symbolStrokeWidth": 2.5, "symbolOpacity": 1,
                   "labelFont": "DejaVu Serif", "labelFontStyle": "italic", "labelFontSize": 38, "labelColor": "#000",
                   "labelOffset": 10, "rowPadding": 3, "symbolOffset": 22, "padding": 9,
                   "strokeColor": "#d3d3d3", "cornerRadius": 8, "fillColor": "#ffffff"}},
               "stroke": {"field": "species", "type": "nominal",
                 "scale": {"domain": ["π+", "K+", "p"], "range": ["#006400", "#00008b", "#8b0000"]},
                 "legend": {"orient": "none", "legendX": 612, "legendY": 362, "title": null, "symbolSize": 300, "symbolStrokeWidth": 2.5, "symbolOpacity": 1,
                   "labelFont": "DejaVu Serif", "labelFontStyle": "italic", "labelFontSize": 38, "labelColor": "#000",
                   "labelOffset": 10, "rowPadding": 3, "symbolOffset": 22, "padding": 9,
                   "strokeColor": "#d3d3d3", "cornerRadius": 8, "fillColor": "#ffffff"}}
             }}
          ]
        },
        {"data": {"name": "notes"}, "transform": [{"filter": "datum.kind == 'energy' && datum.charge == 'pos' && datum.energy == 54.4"}],
         "mark": {"type": "text", "align": "right", "baseline": "alphabetic", "dx": -9, "dy": 37, "font": "Liberation Serif", "fontSize": 34, "color": "#000"},
         "encoding": {"x": {"datum": 68, "axis": null}, "y": {"datum": 0.12, "axis": null}, "text": {"field": "label"}}}
      ]
    }
  ],
  "config": {
    "view": {"stroke": "#000000", "strokeWidth": 2},
    "axis": {"grid": false, "domain": false, "tickColor": "#000", "tickWidth": 1.5, "tickSize": 8, "labelFont": "Liberation Serif", "labelFontSize": 27, "labelColor": "#000", "labelPadding": 8, "titleColor": "#000", "titleFontWeight": "normal"},
    "text": {"font": "Liberation Serif", "color": "#000"}
  }
}
